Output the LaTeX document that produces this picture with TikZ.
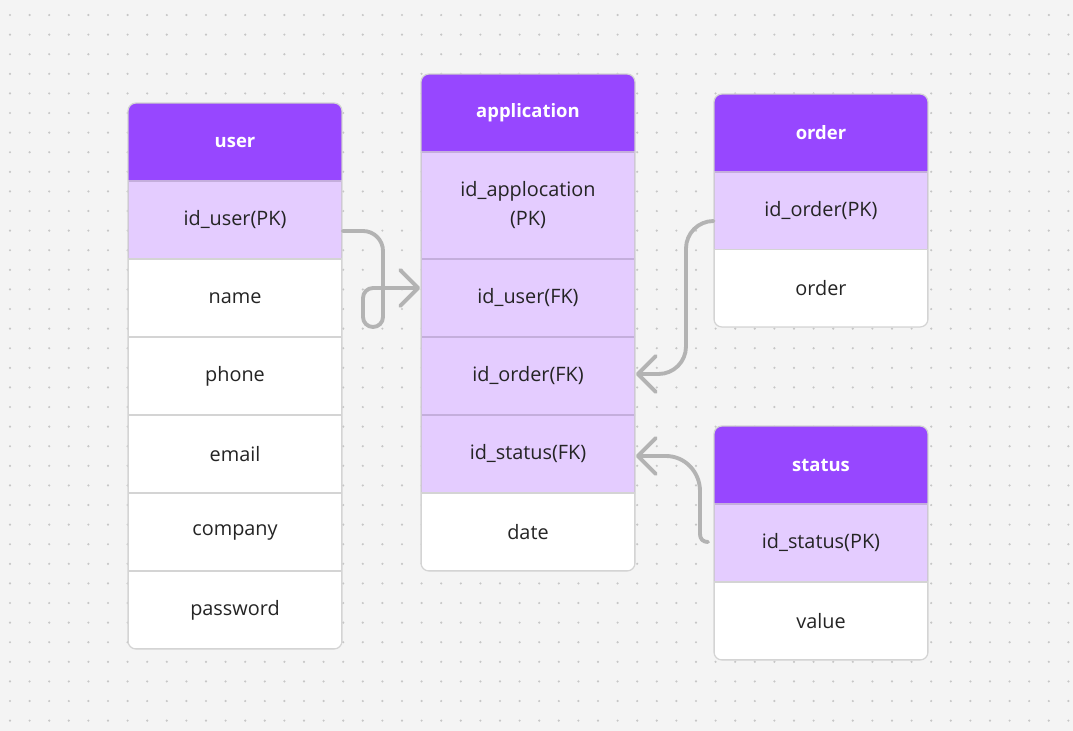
\documentclass[tikz,border=0pt]{standalone}
\usepackage{fontspec}
\setmainfont{Open Sans}
\usetikzlibrary{arrows.meta}

\definecolor{bgcol}{HTML}{F4F4F4}
\definecolor{dotcol}{HTML}{C6C6C6}
\definecolor{headcol}{HTML}{9747FF}
\definecolor{headline}{HTML}{8A3CEB}
\definecolor{keycol}{HTML}{E4CCFF}
\definecolor{keyline}{HTML}{C4AEDC}
\definecolor{rowline}{HTML}{D4D4D4}
\definecolor{linkcol}{HTML}{B3B3B3}
\definecolor{textcol}{HTML}{242424}

\tikzset{
  cell/.style={rectangle, minimum width=4.28cm, minimum height=1.56cm, inner sep=0pt,
    line width=1pt, text=textcol, align=center, font=\fontsize{11.3}{16.5}\selectfont},
  headcell/.style={cell, fill=headcol, draw=headline, text=white,
    font=\fontsize{10.5}{13}\selectfont\bfseries},
  keycell/.style={cell, fill=keycol, draw=keyline},
  datacell/.style={cell, fill=white, draw=rowline},
  outline/.style={draw=rowline, line width=0.7pt, rounded corners=0.16cm},
  link/.style={draw=linkcol, line width=2.2pt, line cap=round, line join=round,
    -{Straight Barb[length=0.36cm,width=0.72cm,round]}},
}

\begin{document}
\begin{tikzpicture}[x=0.02cm,y=-0.02cm]
  %background and dots
  \fill[bgcol] (0,0) rectangle (1073,731);
  \useasboundingbox (0,0) rectangle (1073,731);
  \foreach \i in {0,...,54}
    \foreach \j in {0,...,36}
      \fill[dotcol] ({10+19.6*\i},{15+19.6*\j}) circle (0.024cm);

  %user table
  \begin{scope}
    \clip[rounded corners=0.16cm] (128,103) rectangle (342,649);
    \node[headcell] (user) at (235,142) {user};
    \node[keycell] (user-pk) at (235,220) {id\_user(PK)};
    \node[datacell] (user-name) at (235,298) {name};
    \node[datacell] (user-phone) at (235,376) {phone};
    \node[datacell] (user-email) at (235,454) {email};
    \node[datacell] (user-company) at (235,532) {company};
    \node[datacell] (user-password) at (235,610) {password};
  \end{scope}
  \draw[outline] (128,103) rectangle (342,649);

  %application table
  \begin{scope}
    \clip[rounded corners=0.16cm] (421,74) rectangle (635,571);
    \node[headcell] (app) at (528,113) {application};
    \node[keycell, minimum height=2.14cm] (app-pk) at (528,205.5) {id\_applocation\\(PK)};
    \node[keycell] (app-user) at (528,298) {id\_user(FK)};
    \node[keycell] (app-order) at (528,376) {id\_order(FK)};
    \node[keycell] (app-status) at (528,454) {id\_status(FK)};
    \node[datacell] (app-date) at (528,532) {date};
  \end{scope}
  \draw[outline] (421,74) rectangle (635,571);

  %order table
  \begin{scope}
    \clip[rounded corners=0.16cm] (714,94) rectangle (928,327);
    \node[headcell] (order) at (821,133) {order};
    \node[keycell] (order-pk) at (821,211) {id\_order(PK)};
    \node[datacell] (order-order) at (821,288.5) {order};
  \end{scope}
  \draw[outline] (714,94) rectangle (928,327);

  %status table
  \begin{scope}
    \clip[rounded corners=0.16cm] (714,426) rectangle (928,660);
    \node[headcell] (status) at (821,465) {status};
    \node[keycell] (status-pk) at (821,543) {id\_status(PK)};
    \node[datacell] (status-value) at (821,621) {value};
  \end{scope}
  \draw[outline] (714,426) rectangle (928,660);

  %links
  \coordinate (u-out) at (user-pk.east |- 0,231);
  \coordinate (u-in) at (app-user.west |- 0,288);
  \coordinate (o-out) at (order-pk.west |- 0,221);
  \coordinate (o-in) at (app-order.east |- 0,374);
  \coordinate (s-out) at (708,542);
  \coordinate (s-in) at (app-status.east |- 0,456);

  \draw[link] (u-out) -- (363,231) .. controls (374,231) and (383,240) .. (383,251)
    [rounded corners=0.2cm] -- (383,327) -- (363,327) -- (363,288) -- (u-in);
  \draw[link, rounded corners=0.55cm] (o-out) -- (686,221) -- (686,374) -- (o-in);
  \draw[link] (s-out) .. controls (703,542) and (700,539) .. (700,534)
    -- (700,491) .. controls (700,472) and (685,456) .. (666,456) -- (s-in);
\end{tikzpicture}
\end{document}
